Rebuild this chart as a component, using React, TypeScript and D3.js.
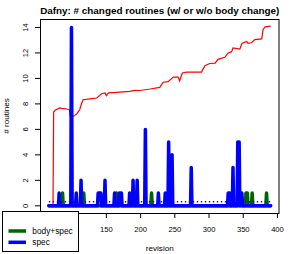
import React from 'react';
import * as d3 from 'd3';

// revisions covered by the series
const firstRev = 66;
const lastRev = 390;

// [revision, # routines] for revisions with spec-only changes (all others are 0)
const specChanges: [number, number][] = [
  [81, 1], [99, 14], [106, 1], [113, 2],
  [138, 1], [139, 1], [140, 1], [141, 1], [142, 1], [148, 2],
  [162, 1], [169, 1], [170, 1], [171, 1], [172, 1],
  [184, 1], [189, 2], [192, 1], [195, 2], [207, 6],
  [226, 1], [236, 1], [241, 5], [246, 4], [274, 3],
  [328, 1], [329, 1], [330, 1], [335, 3], [342, 5], [343, 5], [344, 5],
  [346, 1], [347, 1], [348, 1],
];

// [revision, # routines] for revisions with body+spec changes
const bodySpecChanges: [number, number][] = [
  [86, 1], [117, 1], [165, 1], [216, 1], [354, 1], [355, 1], [356, 1], [363, 1], [384, 1],
];

// red trend line, [revision, value]
const routineTrend: [number, number][] = [
  [66, 0], [72, 0], [73, 7.36], [75, 7.5], [82, 7.68], [85, 7.65], [92, 7.6], [96, 7.55],
  [97, 7.07], [102, 7.02], [107, 7.23], [111, 7.54], [114, 8.07], [116, 8.33], [126, 8.39],
  [136, 8.46], [140, 8.65], [143, 8.8], [148, 8.86], [150, 8.65], [153, 8.86], [165, 8.9],
  [184, 8.98], [192, 9.06], [199, 9.05], [214, 9.17], [228, 9.3], [233, 9.7], [240, 9.75],
  [248, 10.1], [255, 10.1], [257, 9.8], [261, 10.43], [267, 10.5], [289, 10.5], [294, 11.0],
  [301, 11.17], [309, 11.2], [313, 11.5], [323, 11.66], [328, 12.0], [333, 12.1], [335, 12.4],
  [345, 12.3], [348, 12.74], [355, 12.9], [357, 12.75], [362, 12.8], [367, 13.05], [377, 13.1],
  [379, 13.84], [382, 14.05], [390, 14.1],
];

const specMean = 0.32;

const yTicks = [0, 2, 4, 6, 8, 10, 12, 14];
const xTicks = [100, 150, 200, 250, 300, 350, 400];

const legendLabels = ['body+spec', 'spec'];
const legendColors = ['#006400', '#0000ff'];

const font = '"Liberation Sans", Arial, Helvetica, sans-serif';
const plot = { left: 40, right: 279.5, top: 19, bottom: 213 };

function dense(changes: [number, number][]): [number, number][] {
  const m = new Map(changes);
  return d3.range(firstRev, lastRev + 1).map((r) => [r, m.get(r) ?? 0] as [number, number]);
}

export default function App() {
  const xPad = (lastRev - firstRev) * 0.04;
  const x = d3.scaleLinear().domain([firstRev - xPad, lastRev + xPad]).range([plot.left, plot.right]);
  const yMax = d3.max([...specChanges, ...routineTrend], (d) => d[1]) as number;
  const yPad = yMax * 0.04;
  const y = d3.scaleLinear().domain([-yPad, yMax + yPad]).range([plot.bottom, plot.top]);

  const line = d3
    .line<[number, number]>()
    .x((d) => x(d[0]))
    .y((d) => y(d[1]));

  const spec = dense(specChanges);
  const bodySpec = dense(bodySpecChanges);

  return (
    <svg width={294} height={254} style={{ position: 'absolute', left: 0, top: 0, background: '#fff' }} fontFamily={font}>
      <text x={(plot.left + plot.right) / 2} y={14} textAnchor="middle" fontWeight="bold" fontSize={9.9}>
        Dafny: # changed routines (w/ or w/o body change)
      </text>

      <path d={line(routineTrend) ?? ''} fill="none" stroke="#ff0000" strokeWidth={1.2} />
      <path d={line(bodySpec) ?? ''} fill="none" stroke="#006400" strokeWidth={3.5} strokeLinejoin="round" strokeLinecap="round" />
      <line
        x1={x(firstRev)}
        x2={x(lastRev)}
        y1={y(specMean)}
        y2={y(specMean)}
        stroke="#0000ff"
        strokeWidth={1.3}
        strokeDasharray="1.3,2.7"
      />
      <path d={line(spec) ?? ''} fill="none" stroke="#0000ff" strokeWidth={3.5} strokeLinejoin="round" strokeLinecap="round" />

      <rect
        x={plot.left + 0.5}
        y={plot.top + 0.5}
        width={plot.right - plot.left - 1}
        height={plot.bottom - plot.top}
        fill="none"
        stroke="#000"
      />

      {yTicks.map((t) => (
        <g key={t}>
          <line x1={35} x2={plot.left} y1={y(t)} y2={y(t)} stroke="#000" />
          <text transform={`translate(27.5,${y(t)}) rotate(-90)`} textAnchor="middle" fontSize={7.6}>
            {t}
          </text>
        </g>
      ))}
      {xTicks.map((t) => (
        <g key={t}>
          <line x1={x(t)} x2={x(t)} y1={plot.bottom} y2={plot.bottom + 5} stroke="#000" />
          <text x={x(t)} y={231.5} textAnchor="middle" fontSize={7.6}>
            {t}
          </text>
        </g>
      ))}

      <text x={(plot.left + plot.right) / 2} y={250.5} textAnchor="middle" fontSize={8.1}>
        revision
      </text>
      <text transform={`translate(8.5,${(plot.top + plot.bottom) / 2}) rotate(-90)`} textAnchor="middle" fontSize={8.1}>
        # routines
      </text>

      <rect x={2.5} y={211.5} width={76} height={40} fill="#fff" stroke="#000" />
      {legendLabels.map((label, i) => (
        <g key={label} transform={`translate(0,${231 + i * 11.3})`}>
          <line x1={8.5} x2={26} y1={0} y2={0} stroke={legendColors[i]} strokeWidth={3.5} />
          <text x={32.3} y={3} fontSize={8.3}>
            {label}
          </text>
        </g>
      ))}
    </svg>
  );
}
